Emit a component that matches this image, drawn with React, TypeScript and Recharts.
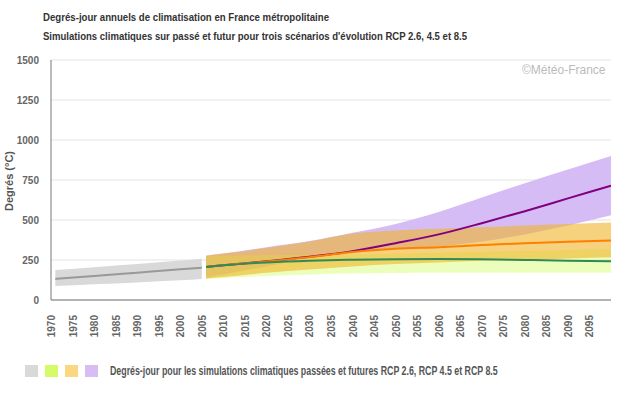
import { ComposedChart, Area, Line, XAxis, YAxis, CartesianGrid } from 'recharts';

// historical simulation (gray)
const histYears = [1971, 1980, 1990, 2000, 2005];
const histMean = [132, 150, 171, 192, 202];
const histLow = [87, 98, 110, 123, 131];
const histHigh = [187, 205, 225, 247, 258];

// future scenarios
const futYears = [2006, 2010, 2020, 2030, 2040, 2050, 2060, 2070, 2080, 2090, 2100];
const rcp26Mean = [207, 217, 235, 246, 252, 255, 256, 254, 250, 246, 242];
const rcp26Low = [133, 138, 150, 160, 165, 168, 170, 170, 171, 171, 171];
const rcp26High = [272, 276, 280, 283, 285, 290, 295, 302, 308, 313, 318];
const rcp45Mean = [207, 218, 240, 268, 300, 320, 330, 343, 355, 364, 372];
const rcp45Low = [133, 143, 170, 190, 210, 225, 235, 245, 252, 260, 267];
const rcp45High = [277, 290, 325, 365, 415, 435, 445, 455, 465, 475, 485];
const rcp85Mean = [207, 217, 242, 270, 305, 355, 410, 480, 555, 635, 715];
const rcp85Low = [140, 160, 210, 260, 295, 320, 335, 365, 410, 465, 530];
const rcp85High = [277, 290, 330, 368, 420, 475, 550, 640, 730, 815, 900];

const xTicks = [
  1970, 1975, 1980, 1985, 1990, 1995, 2000, 2005, 2010, 2015, 2020, 2025, 2030, 2035,
  2040, 2045, 2050, 2055, 2060, 2065, 2070, 2075, 2080, 2085, 2090, 2095,
];
const yTicks = [0, 250, 500, 750, 1000, 1250, 1500];

const title1 = 'Degrés-jour annuels de climatisation en France métropolitaine';
const title2 = "Simulations climatiques sur passé et futur pour trois scénarios d'évolution RCP 2.6, 4.5 et 8.5";
const legendText = 'Degrés-jour pour les simulations climatiques passées et futures RCP 2.6, RCP 4.5 et RCP 8.5';
const legendColors = ['#d9d9d9', '#d4fc6a', '#fad780', '#d8bcf3'];

const rows = [
  ...histYears.map((year, i) => ({
    year,
    hist: histMean[i],
    histBand: [histLow[i], histHigh[i]],
  })),
  ...futYears.map((year, i) => ({
    year,
    rcp26: rcp26Mean[i],
    rcp26Band: [rcp26Low[i], rcp26High[i]],
    rcp45: rcp45Mean[i],
    rcp45Band: [rcp45Low[i], rcp45High[i]],
    rcp85: rcp85Mean[i],
    rcp85Band: [rcp85Low[i], rcp85High[i]],
  })),
];

const FONT = "'Liberation Sans', Arial, sans-serif";

const XTick = ({ x, y, payload }: any) => (
  <text
    transform={`translate(${x + 4},${y + 7}) rotate(-90)`}
    textAnchor="end"
    fontFamily={FONT}
    fontSize={10}
    fontWeight="bold"
    fill="#666"
  >
    {payload.value}
  </text>
);

const YTick = ({ x, y, payload }: any) => (
  <text x={x} y={y} dy={4} textAnchor="end" fontFamily={FONT} fontSize={10} fontWeight="bold" fill="#666">
    {payload.value}
  </text>
);

export default function App() {
  return (
    <div style={{ position: 'absolute', left: 0, top: 0, width: 630, height: 405, background: '#fff' }}>
      <ComposedChart width={630} height={405} data={rows} margin={{ top: 60, right: 19, bottom: 65, left: 0 }}>
        <CartesianGrid vertical={false} stroke="#e3e3e3" />
        <XAxis
          type="number"
          dataKey="year"
          domain={[1970, 2100]}
          ticks={xTicks}
          interval={0}
          allowDataOverflow
          height={40}
          tickLine={false}
          axisLine={{ stroke: '#777' }}
          tick={<XTick />}
        />
        <YAxis
          domain={[0, 1500]}
          ticks={yTicks}
          width={51}
          tickLine={false}
          tickMargin={6}
          axisLine={{ stroke: '#777' }}
          tick={<YTick />}
        />
        <Area dataKey="histBand" stroke="none" fill="#d9d9d9" fillOpacity={1} isAnimationActive={false} type="monotone" />
        <Line dataKey="hist" stroke="#999" strokeWidth={2} dot={false} isAnimationActive={false} type="monotone" />
        <Area dataKey="rcp85Band" stroke="none" fill="#d6bcf4" fillOpacity={1} isAnimationActive={false} type="monotone" />
        <Area dataKey="rcp26Band" stroke="none" fill="#d4fc6a" fillOpacity={0.45} isAnimationActive={false} type="monotone" />
        <Area dataKey="rcp45Band" stroke="none" fill="#f0b428" fillOpacity={0.6} isAnimationActive={false} type="monotone" />
        <Line dataKey="rcp85" stroke="#800080" strokeWidth={2} dot={false} isAnimationActive={false} type="monotone" />
        <Line dataKey="rcp45" stroke="#ff7f00" strokeWidth={2} dot={false} isAnimationActive={false} type="monotone" />
        <Line dataKey="rcp26" stroke="#2e8b57" strokeWidth={2} dot={false} isAnimationActive={false} type="monotone" />
      </ComposedChart>
      <svg width={630} height={405} style={{ position: 'absolute', left: 0, top: 0, pointerEvents: 'none' }}>
        <text x={43} y={21} fontFamily={FONT} fontSize={11} fontWeight="bold" fill="#333" textLength={286} lengthAdjust="spacingAndGlyphs">
          {title1}
        </text>
        <text x={43} y={40} fontFamily={FONT} fontSize={11} fontWeight="bold" fill="#333" textLength={424} lengthAdjust="spacingAndGlyphs">
          {title2}
        </text>
        <text x={522} y={74} fontFamily={FONT} fontSize={12} fill="#bbb">
          ©Météo-France
        </text>
        <text
          transform="translate(13,181) rotate(-90)"
          textAnchor="middle"
          fontFamily={FONT}
          fontSize={11}
          fontWeight="bold"
          fill="#555"
        >
          Degrés (°C)
        </text>
        {legendColors.map((c, i) => (
          <rect key={c} x={25 + i * 20} y={365} width={13} height={12} fill={c} />
        ))}
        <g transform="translate(110,375) scale(0.735,1)">
          <text x={0} y={0} fontFamily={FONT} fontSize={12} fill="#555" fontWeight="bold">
            {legendText}
          </text>
        </g>
      </svg>
    </div>
  );
}
